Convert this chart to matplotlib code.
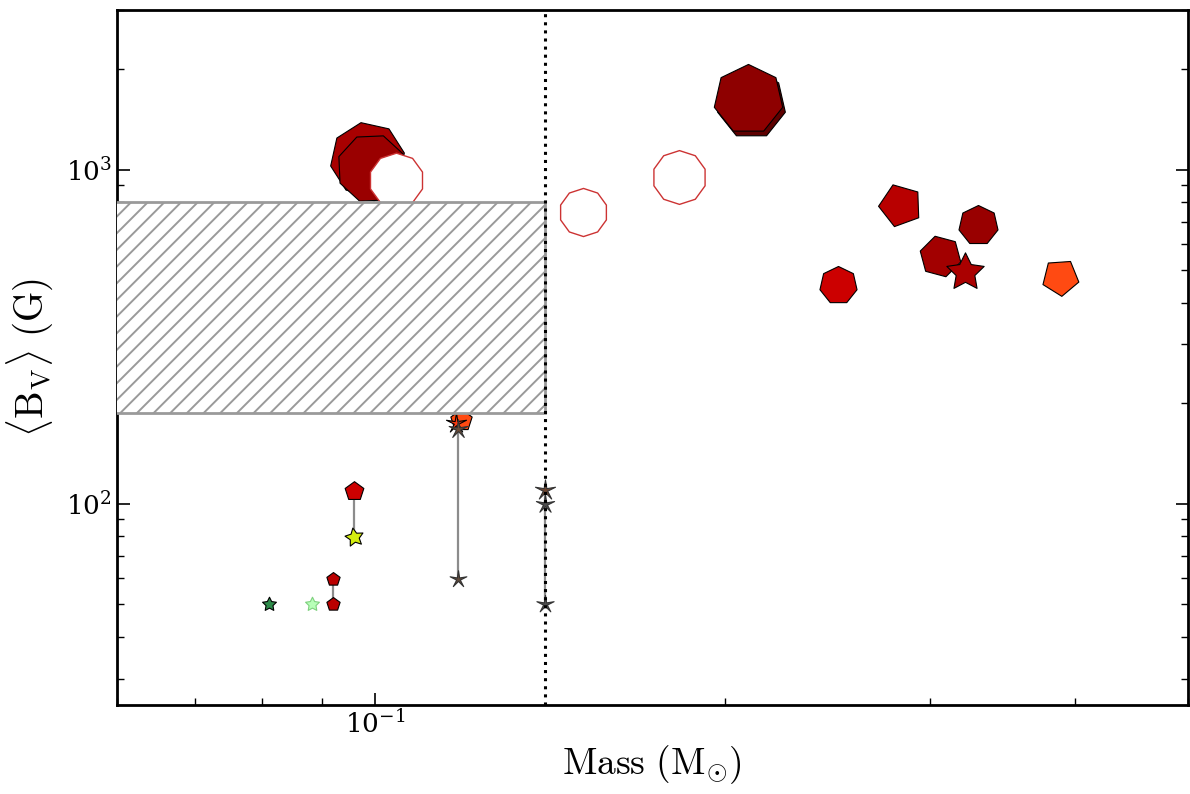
import matplotlib
matplotlib.use("Agg")
from matplotlib import pyplot as plt
from matplotlib.patches import Rectangle
from matplotlib.path import Path
from matplotlib.ticker import NullFormatter, LogLocator

plt.rcParams['mathtext.fontset'] = 'cm'
plt.rcParams['font.family'] = ['DejaVu Serif']
plt.rcParams['hatch.linewidth'] = 1.4
plt.rcParams['hatch.color'] = '#9a9a9a'

# star data: mass (Msun), <B_V> (G), marker size, colour, shape
mass = [0.0985, 0.0992, 0.1042, 0.2105, 0.2095, 0.1826, 0.1509, 0.283, 0.330,
        0.306, 0.322, 0.250, 0.388, 0.0959, 0.0960, 0.0921, 0.0921, 0.0810,
        0.0882, 0.1185, 0.1175, 0.1180, 0.1180, 0.1400, 0.1400, 0.1400]
bv = [1075, 1010, 935, 1570, 1630, 953, 748, 785, 684,
      552, 494, 452, 477, 109.6, 79.6, 59.5, 50.0, 50.0,
      50.0, 178, 175, 167, 59.5, 110, 100, 50]
size = [2900, 2500, 1550, 2500, 2550, 1500, 1200, 1000, 830,
        910, 800, 750, 740, 200, 190, 100, 100, 110,
        110, 260, 230, 200, 160, 230, 190, 170]
colors = ['#a80000', '#9a0000', 'white', '#5e0000', '#8e0000', 'white', 'white',
          '#b80000', '#990000', '#a20000', '#aa0000', '#cc0000', '#ff4a12',
          '#cc0000', '#d4ee10', '#bb0000', '#bb0000', '#2e8b4a', '#b8ffb8',
          '#ff4a12', '#ff3a10', '#6b4a35', '#5e4a3c', '#6b4530', '#4e4e4e', '#4e4e4e']
edges = ['k', 'k', '#cc3333', 'k', 'k', '#cc3333', '#cc3333',
         'k', 'k', 'k', 'k', 'k', 'k',
         'k', 'k', 'k', 'k', 'k', '#7fd07f',
         'k', 'k', '#333333', '#333333', '#333333', '#333333', '#333333']
shapes = [8, 8, 10, 7, 7, 10, 10, 5, 7, 6, 'star', 7, 5,
          5, 'star', 5, 5, 'star', 'star', 5, 'thin', 'thin', 'thin', 'thin', 'thin', 'thin']
angles = [10, 25, 0, 0, 0, 0, 0, 20, 0, 15, 0, 0, 40,
          0, 10, 0, 0, 0, 0, 0, 30, 15, 0, 20, 10, 0]

# same star observed at several epochs, joined by grey lines
links_m = [0.0998, 0.0959, 0.0921, 0.118, 0.140]
links_lo = [800, 79.6, 50.0, 59.5, 50.0]
links_hi = [1070, 109.6, 59.5, 177, 110]

# fully convective region box
box_m = [0.05, 0.14]
box_b = [187, 800]
mass_limit = 0.14

fig = plt.figure(figsize=(11.9, 7.94), dpi=100)
ax = fig.add_axes([0.0983, 0.112, 0.8997, 0.875])
ax.set_xscale('log')
ax.set_yscale('log')

thin_star = Path.unit_regular_star(5, innerCircle=0.22)

for m0, lo, hi in zip(links_m, links_lo, links_hi):
    ax.plot([m0, m0], [lo, hi], color='#8c8c8c', lw=1.6, zorder=1.5)

for i in range(len(mass)):
    sh = shapes[i]
    if sh == 'star':
        mk = (5, 1, angles[i])
    elif sh == 'thin':
        mk = thin_star
    else:
        mk = (sh, 0, angles[i])
    lw = 0.8
    if colors[i] == 'white':
        lw = 1.0
    ax.scatter([mass[i]], [bv[i]], s=size[i], marker=mk, c=colors[i],
               edgecolors=edges[i], linewidths=lw, zorder=2)

ax.add_patch(Rectangle((box_m[0], box_b[0]), box_m[1] - box_m[0], box_b[1] - box_b[0],
                       facecolor='white', edgecolor='#9a9a9a', hatch='//', lw=2, zorder=3))
ax.axvline(mass_limit, color='k', ls=':', lw=2.2, zorder=4)

ax.set_xlim(0.06, 0.5)
ax.set_ylim(25, 3000)

ax.xaxis.set_major_locator(LogLocator(base=10))
ax.xaxis.set_minor_locator(LogLocator(base=10, subs=range(2, 10)))
ax.xaxis.set_minor_formatter(NullFormatter())
ax.yaxis.set_minor_formatter(NullFormatter())
ax.tick_params(which='both', direction='in', top=False, right=True, labelsize=19)
ax.tick_params(which='major', length=9, width=1.2)
ax.tick_params(which='minor', length=5, width=1)
for sp in ax.spines.values():
    sp.set_linewidth(2)

ax.set_xlabel(r'$\mathrm{Mass\ (M}_{\odot}\mathrm{)}$', fontsize=27, labelpad=4)
ax.set_ylabel(r'$\langle \mathrm{B_V} \rangle\ \mathrm{(G)}$', fontsize=28, labelpad=8)

fig.savefig('out.png', dpi=100)
